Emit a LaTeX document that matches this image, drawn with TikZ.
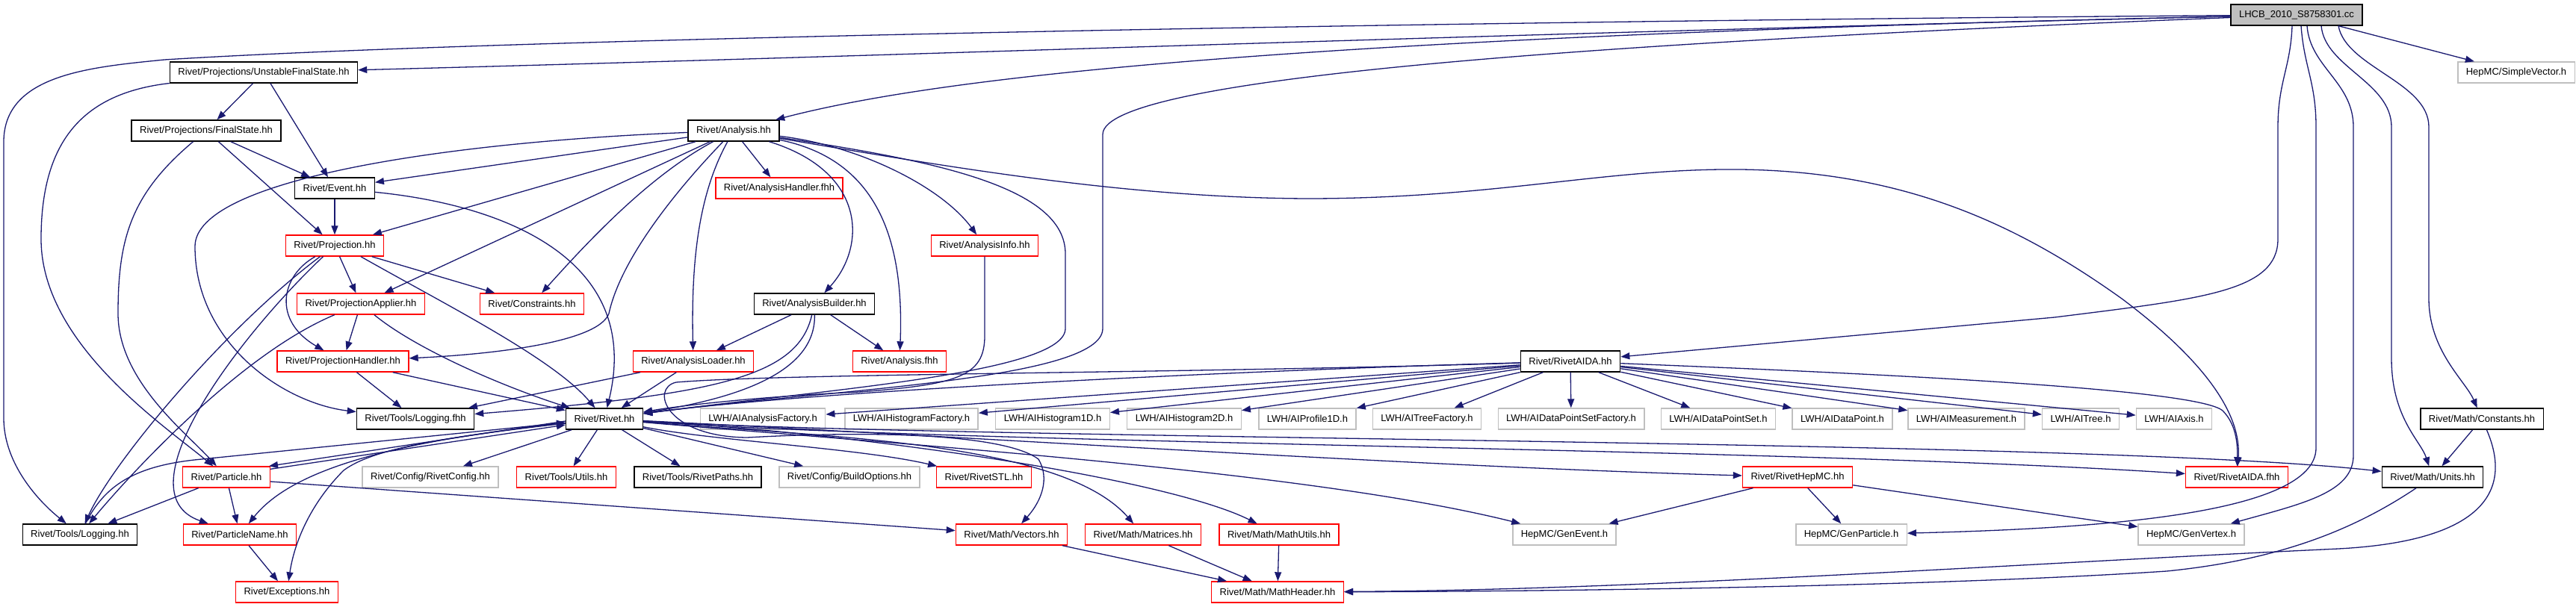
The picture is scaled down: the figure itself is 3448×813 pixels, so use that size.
\documentclass[tikz,border=0pt]{standalone}
\usepackage{fontspec}
\setmainfont{Liberation Sans}
\usetikzlibrary{arrows.meta}
\definecolor{edgeblue}{HTML}{191970}
\definecolor{extgray}{HTML}{BFBFBF}
\definecolor{hdrred}{HTML}{FF0000}
\begin{document}
\begin{tikzpicture}[x=1pt, y=-1pt,
  hdr/.style={rectangle, inner xsep=11pt, inner ysep=0pt, minimum height=28pt, line width=1.4pt, font=\fontsize{13}{15}\selectfont},
  blk/.style={hdr, draw=black},
  redbox/.style={hdr, draw=hdrred},
  ext/.style={hdr, draw=extgray},
  mainfile/.style={hdr, draw=black, fill=extgray},
  inc/.style={draw=edgeblue, line width=1.3pt, -{Triangle[length=12pt,width=9pt]}}]
\useasboundingbox (0,0) rectangle (3448,813);

\node (lhcb) at (3074,20) [mainfile] {LHCB\_2010\_S8758301.cc};
\node (simplevec) at (3368,97) [ext] {HepMC/SimpleVector.h};
\node (ufs) at (353,97) [blk] {Rivet/Projections/UnstableFinalState.hh};
\node (fs) at (276,175) [blk] {Rivet/Projections/FinalState.hh};
\node (anal) at (982,175) [blk] {Rivet/Analysis.hh};
\node (evt) at (448,252) [blk] {Rivet/Event.hh};
\node (ahandler) at (1043,252) [redbox] {Rivet/AnalysisHandler.fhh};
\node (proj) at (448,329) [redbox] {Rivet/Projection.hh};
\node (ainfo) at (1318,329) [redbox] {Rivet/AnalysisInfo.hh};
\node (papplier) at (483,407) [redbox] {Rivet/ProjectionApplier.hh};
\node (constr) at (712,407) [redbox] {Rivet/Constraints.hh};
\node (abuilder) at (1090,407) [blk] {Rivet/AnalysisBuilder.hh};
\node (phandler) at (459,484) [redbox] {Rivet/ProjectionHandler.hh};
\node (aloader) at (928,484) [redbox] {Rivet/AnalysisLoader.hh};
\node (afhh) at (1204,484) [redbox] {Rivet/Analysis.fhh};
\node (aida) at (2102,484) [blk] {Rivet/RivetAIDA.hh};
\node (logfhh) at (556,561) [blk] {Rivet/Tools/Logging.fhh};
\node (rivet) at (809,561) [blk] {Rivet/Rivet.hh};
\node (aianf) at (1021,561) [ext] {LWH/AIAnalysisFactory.h};
\node (aihistf) at (1220,561) [ext] {LWH/AIHistogramFactory.h};
\node (aih1d) at (1409,561) [ext] {LWH/AIHistogram1D.h};
\node (aih2d) at (1585,561) [ext] {LWH/AIHistogram2D.h};
\node (aiprof) at (1750,561) [ext] {LWH/AIProfile1D.h};
\node (aitreef) at (1910,561) [ext] {LWH/AITreeFactory.h};
\node (aidpsf) at (2103,561) [ext] {LWH/AIDataPointSetFactory.h};
\node (aidps) at (2300,561) [ext] {LWH/AIDataPointSet.h};
\node (aidp) at (2466,561) [ext] {LWH/AIDataPoint.h};
\node (aimeas) at (2632,561) [ext] {LWH/AIMeasurement.h};
\node (aitree) at (2785,561) [ext] {LWH/AITree.h};
\node (aiaxis) at (2910,561) [ext] {LWH/AIAxis.h};
\node (consts) at (3322,561) [blk] {Rivet/Math/Constants.hh};
\node (particle) at (303,639) [redbox] {Rivet/Particle.hh};
\node (rconfig) at (576,639) [ext] {Rivet/Config/RivetConfig.hh};
\node (utils) at (758,639) [redbox] {Rivet/Tools/Utils.hh};
\node (paths) at (934,639) [blk] {Rivet/Tools/RivetPaths.hh};
\node (bopts) at (1137,639) [ext] {Rivet/Config/BuildOptions.hh};
\node (stl) at (1317,639) [redbox] {Rivet/RivetSTL.hh};
\node (hepmc) at (2406,639) [redbox] {Rivet/RivetHepMC.hh};
\node (aidafhh) at (2994,639) [redbox] {Rivet/RivetAIDA.fhh};
\node (units) at (3256,639) [blk] {Rivet/Math/Units.hh};
\node (logging) at (107,716) [blk] {Rivet/Tools/Logging.hh};
\node (pname) at (321,716) [redbox] {Rivet/ParticleName.hh};
\node (vectors) at (1354,716) [redbox] {Rivet/Math/Vectors.hh};
\node (matrices) at (1530,716) [redbox] {Rivet/Math/Matrices.hh};
\node (mutils) at (1712,716) [redbox] {Rivet/Math/MathUtils.hh};
\node (genevent) at (2094,716) [ext] {HepMC/GenEvent.h};
\node (genpart) at (2478,716) [ext] {HepMC/GenParticle.h};
\node (genvertex) at (2933,716) [ext] {HepMC/GenVertex.h};
\node (except) at (384,793) [redbox] {Rivet/Exceptions.hh};
\node (mheader) at (1710,793) [redbox] {Rivet/Math/MathHeader.hh};

\draw [inc] (lhcb) .. controls (2000,28) and (700,50) .. (220,80) .. controls (120,90) and (5,100) .. (5,190) -- (5,560) .. controls (5,620) and (50,670) .. (logging);
\draw [inc] (lhcb) .. controls (2000,45) and (1200,75) .. (ufs);
\draw [inc] (lhcb) .. controls (1700,50) and (1250,105) .. (anal);
\draw [inc] (lhcb) .. controls (2200,55) and (1476,100) .. (1476,180) -- (1476,440) .. controls (1476,510) and (1100,522) .. (rivet);
\draw [inc] ([xshift=-6pt]lhcb.south) .. controls (3066,90) and (3049,110) .. (3049,170) -- (3049,320) .. controls (3049,390) and (2950,400) .. (2750,425) -- (aida);
\draw [inc] ([xshift=6pt]lhcb.south) .. controls (3084,90) and (3100,110) .. (3100,170) -- (3100,600) .. controls (3100,690) and (2800,708) .. (genpart);
\draw [inc] ([xshift=14pt]lhcb.south) .. controls (3092,90) and (3150,110) .. (3150,170) -- (3150,610) .. controls (3150,660) and (3080,675) .. (genvertex);
\draw [inc] ([xshift=33pt]lhcb.south) .. controls (3112,90) and (3201,110) .. (3201,170) -- (3201,480) .. controls (3201,560) and (3240,590) .. (units);
\draw [inc] ([xshift=56pt]lhcb.south) .. controls (3140,90) and (3251,110) .. (3251,170) -- (3251,400) .. controls (3251,470) and (3300,510) .. (consts);
\draw [inc] (lhcb) -- (simplevec);

\draw [inc] (ufs) -- (fs);
\draw [inc] (ufs) -- (evt);
\draw [inc] (ufs) .. controls (110,125) and (55,190) .. (55,320) .. controls (55,460) and (220,570) .. (particle);
\draw [inc] (fs) -- (evt);
\draw [inc] (fs) -- (proj);
\draw [inc] (fs) .. controls (175,260) and (158,320) .. (158,420) .. controls (158,510) and (250,580) .. (particle);

\draw [inc] (anal) -- (evt);
\draw [inc] (anal) .. controls (600,190) and (261,240) .. (261,330) .. controls (261,460) and (380,540) .. (logfhh);
\draw [inc] (anal) -- (proj);
\draw [inc] (anal) -- (papplier);
\draw [inc] (anal) .. controls (870,235) and (790,320) .. (constr);
\draw [inc] (anal) .. controls (900,260) and (830,350) .. (815,420) .. controls (800,460) and (650,475) .. (phandler);
\draw [inc] (anal) -- (ahandler);
\draw [inc] (anal) .. controls (935,260) and (925,350) .. (aloader);
\draw [inc] (anal) .. controls (1160,230) and (1160,330) .. (abuilder);
\draw [inc] (anal) .. controls (1180,215) and (1210,330) .. (afhh);
\draw [inc] (anal) .. controls (1150,195) and (1260,250) .. (ainfo);
\draw [inc] (anal) .. controls (1250,215) and (1426,250) .. (1426,340) -- (1426,440) .. controls (1426,500) and (1100,522) .. (rivet);
\draw [inc] (anal) .. controls (1250,220) and (1500,265) .. (1750,266) .. controls (2000,266) and (2150,225) .. (2330,227) .. controls (2550,230) and (2700,300) .. (2840,400) .. controls (2960,490) and (3000,560) .. (aidafhh);

\draw [inc] (evt) -- (proj);
\draw [inc] (evt) .. controls (680,275) and (860,350) .. (rivet);
\draw [inc] (proj) -- (papplier);
\draw [inc] (proj) -- (constr);
\draw [inc] (proj) .. controls (375,370) and (365,430) .. (phandler);
\draw [inc] ([xshift=35pt]proj.south) .. controls (600,410) and (740,480) .. (rivet);
\draw [inc] (proj) .. controls (300,440) and (150,620) .. (logging);
\draw [inc] (proj) .. controls (320,450) and (160,660) .. (pname);
\draw [inc] (papplier) -- (phandler);
\draw [inc] (papplier) .. controls (560,470) and (680,520) .. (rivet);
\draw [inc] (papplier) .. controls (320,475) and (170,640) .. (logging);
\draw [inc] (phandler) -- (logfhh);
\draw [inc] (phandler) -- (rivet);

\draw [inc] (abuilder) -- (aloader);
\draw [inc] (abuilder) -- (afhh);
\draw [inc] (abuilder) .. controls (1068,505) and (960,528) .. (logfhh);
\draw [inc] (abuilder) .. controls (1092,490) and (1010,530) .. (rivet);
\draw [inc] (aloader) -- (logfhh);
\draw [inc] (aloader) -- (rivet);
\draw [inc] (ainfo) -- (1318,450) .. controls (1318,505) and (1280,515) .. (1150,525) .. controls (1000,532) and (900,545) .. (rivet);

\draw [inc] (aida) -- (aianf);
\draw [inc] (aida) -- (aihistf);
\draw [inc] (aida) -- (aih1d);
\draw [inc] (aida) -- (aih2d);
\draw [inc] (aida) -- (aiprof);
\draw [inc] (aida) -- (aitreef);
\draw [inc] (aida) -- (aidpsf);
\draw [inc] (aida) -- (aidps);
\draw [inc] (aida) -- (aidp);
\draw [inc] (aida) -- (aimeas);
\draw [inc] (aida) -- (aitree);
\draw [inc] (aida) -- (aiaxis);
\draw [inc] (aida) .. controls (1700,495) and (1100,522) .. (rivet);
\draw [inc] (aida) .. controls (2500,500) and (2940,520) .. (2975,550) .. controls (2995,570) and (2995,600) .. (aidafhh);
\draw [inc] (aida) .. controls (1600,500) and (1050,500) .. (905,512) .. controls (870,520) and (890,585) .. (1000,586) .. controls (1200,575) and (1350,585) .. (1390,615) .. controls (1405,640) and (1395,670) .. (vectors);

\draw [inc] ([yshift=-3pt]rivet.west) -- ([xshift=-2pt]particle.north east);
\draw [inc] ([yshift=-4pt]particle.north east) -- ([yshift=-8pt]rivet.west);
\draw [inc] (logging) .. controls (140,650) and (180,625) .. (260,616) -- ([yshift=-5pt]rivet.west);
\draw [inc] (rivet) .. controls (520,592) and (390,630) .. (pname);
\draw [inc] (rivet) .. controls (600,585) and (500,600) .. (460,630) .. controls (420,670) and (395,720) .. (except);
\draw [inc] (rivet) -- (rconfig);
\draw [inc] (rivet) -- (utils);
\draw [inc] (rivet) -- (paths);
\draw [inc] (rivet) -- (bopts);
\draw [inc] (rivet) .. controls (950,590) and (1150,600) .. (stl);
\draw [inc] (rivet) .. controls (1100,585) and (1420,590) .. (matrices);
\draw [inc] (rivet) .. controls (1150,580) and (1560,640) .. (mutils);
\draw [inc] (rivet) .. controls (1200,595) and (1750,630) .. (genevent);
\draw [inc] (rivet) .. controls (1300,585) and (1900,625) .. (hepmc);
\draw [inc] (rivet) .. controls (1300,595) and (2400,600) .. (aidafhh);
\draw [inc] (rivet) .. controls (1300,590) and (2800,588) .. (units);

\draw [inc] (particle) -- (logging);
\draw [inc] (particle) -- (pname);
\draw [inc] ([yshift=-6pt]particle.east) -- (vectors);
\draw [inc] (pname) -- (except);
\draw [inc] (hepmc) -- (genevent);
\draw [inc] (hepmc) -- (genpart);
\draw [inc] (hepmc) -- (genvertex);
\draw [inc] (consts) -- (units);
\draw [inc] (consts) .. controls (3365,660) and (3320,725) .. (3130,735) .. controls (2700,755) and (2200,790) .. (mheader);
\draw [inc] (units) .. controls (3150,710) and (3050,750) .. (2900,765) .. controls (2600,785) and (2100,792) .. (mheader);
\draw [inc] (vectors) -- (mheader);
\draw [inc] (matrices) -- (mheader);
\draw [inc] (mutils) -- (mheader);
\end{tikzpicture}
\end{document}
